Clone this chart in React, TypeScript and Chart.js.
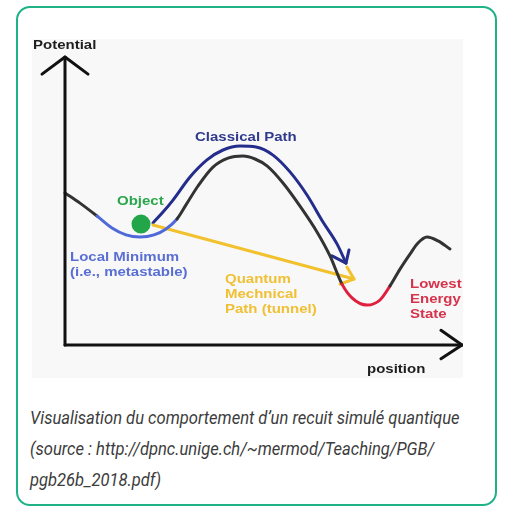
import React, { useEffect, useRef } from "react";
import { Chart, registerables } from "chart.js";

Chart.register(...registerables);

// Potential curve (x = position, y = potential)
const curveX = [0, 3.75, 8, 11.75, 15.25, 18.75, 22.25, 25.25, 28, 30.25, 33.25, 37, 40.75, 44.5, 47.5, 50.5, 54.5, 58.75, 63, 66.25, 69.25, 71.75, 75.5, 78.75, 81.25, 83.75, 86.25, 88.25, 90.5, 93.25, 96.25];
const curveY = [50.7, 47.3, 43, 39, 36.7, 36, 36.7, 38.7, 42, 46.7, 53, 59.3, 62.3, 63, 62, 59.7, 54, 46.3, 37.7, 29.7, 20.3, 15.7, 13.3, 15, 19.7, 25.3, 30.3, 34, 36, 34.7, 32];
const localMinRange = [8, 28];
const lowestRange = [69.25, 81.25];

// Classical path (over the barrier)
const classicalX = [22, 24.5, 27, 31.25, 35.5, 39.5, 43.75, 47.75, 52, 56.25, 60.5, 64.5, 68, 70.25];
const classicalY = [40.7, 44.3, 48.3, 56, 61.7, 65, 66.3, 66, 63.3, 57.7, 50, 41, 33.7, 27.3];
const classicalHeadX = [66.75, 70.25, 71];
const classicalHeadY = [29.7, 27.3, 31.7];

// Quantum tunnel path
const tunnelX = [22, 72.25];
const tunnelY = [40, 22];
const tunnelHeadX = [70.5, 72.25, 68.75];
const tunnelHeadY = [26, 22, 20.3];

// Object
const objectX = [19];
const objectY = [40.3];

// Axes
const yAxisX = [0, 0];
const yAxisY = [0, 96];
const yHeadX = [-5.75, 0, 5.75];
const yHeadY = [90.3, 96, 90.3];
const xAxisX = [0, 99.25];
const xAxisY = [0, 0];
const xHeadX = [94, 99.25, 94];
const xHeadY = [4.9, 0, -4.6];

// Labels
const labelTexts = ["Potential", "Classical Path", "Object", "Local Minimum", "(i.e., metastable)", "Quantum", "Mechnical", "Path (tunnel)", "Lowest", "Energy", "State", "position"];
const labelX = [-8, 32.5, 13, 1.25, 1.25, 40, 40, 40, 86.25, 86.25, 86.25, 75.5];
const labelY = [99.7, 69.3, 47.7, 29, 24, 21.7, 16.7, 11.7, 20, 15, 10, -8.3];
const labelColors = ["#1e1e1e", "#2f3a8c", "#2aa64c", "#5a6fd3", "#5a6fd3", "#f0c035", "#f0c035", "#f0c035", "#d6344c", "#d6344c", "#d6344c", "#1e1e1e"];

const captionLines = [
  "Visualisation du comportement d’un recuit simulé quantique",
  "(source : http://dpnc.unige.ch/~mermod/Teaching/PGB/",
  "pgb26b_2018.pdf)",
];

const pts = (xs: number[], ys: number[]) => xs.map((x, i) => ({ x, y: ys[i] }));

export default function App() {
  const ref = useRef<HTMLCanvasElement | null>(null);
  useEffect(() => {
    if (!ref.current) return;
    const labelPlugin = {
      id: "labels",
      afterDatasetsDraw(chart: any) {
        const { ctx, scales } = chart;
        ctx.save();
        ctx.font = "bold 12.5px 'Liberation Sans', Arial, sans-serif";
        ctx.textBaseline = "middle";
        ctx.textAlign = "left";
        labelTexts.forEach((t, i) => {
          const px = scales.x.getPixelForValue(labelX[i]);
          const py = scales.y.getPixelForValue(labelY[i]);
          ctx.save();
          ctx.translate(px, py);
          ctx.scale(1.2, 1);
          ctx.fillStyle = labelColors[i];
          ctx.fillText(t, 0, 0);
          ctx.restore();
        });
        ctx.restore();
      },
    };
    const line = (data: any, color: string, width: number, extra: any = {}) => ({
      data,
      showLine: true,
      borderColor: color,
      backgroundColor: color,
      borderWidth: width,
      pointRadius: 0,
      fill: false,
      clip: false,
      borderCapStyle: "round",
      borderJoinStyle: "round",
      ...extra,
    });
    const inRange = (a: number, b: number, r: number[]) => a >= r[0] - 0.01 && b <= r[1] + 0.01;
    const chart = new Chart(ref.current, {
      type: "scatter",
      data: {
        datasets: [
          line(pts(yAxisX, yAxisY), "#111", 3),
          line(pts(yHeadX, yHeadY), "#111", 3),
          line(pts(xAxisX, xAxisY), "#111", 3),
          line(pts(xHeadX, xHeadY), "#111", 3),
          line(pts(curveX, curveY), "#333", 3, {
            cubicInterpolationMode: "monotone",
            segment: {
              borderColor: (c: any) =>
                inRange(c.p0.parsed.x, c.p1.parsed.x, localMinRange)
                  ? "#4f6ad8"
                  : inRange(c.p0.parsed.x, c.p1.parsed.x, lowestRange)
                  ? "#e01f3d"
                  : "#333",
            },
          }),
          line(pts(tunnelX, tunnelY), "#f2c12e", 3),
          line(pts(tunnelHeadX, tunnelHeadY), "#f2c12e", 3),
          line(pts(classicalX, classicalY), "#242d8c", 3, { cubicInterpolationMode: "monotone" }),
          line(pts(classicalHeadX, classicalHeadY), "#242d8c", 3),
          {
            data: pts(objectX, objectY),
            pointRadius: 9.5,
            pointBackgroundColor: "#23a64a",
            pointBorderWidth: 0,
            showLine: false,
            clip: false,
          },
        ],
      },
      options: {
        animation: false,
        responsive: false,
        maintainAspectRatio: false,
        layout: { padding: 0, autoPadding: false },
        plugins: { legend: { display: false }, tooltip: { enabled: false }, title: { display: false } },
        scales: {
          x: { type: "linear", min: -8.25, max: 99.5, display: false },
          y: { type: "linear", min: -11, max: 102, display: false },
        },
      },
      plugins: [labelPlugin],
    } as any);
    return () => chart.destroy();
  }, []);

  return (
    <div style={{ position: "fixed", left: 0, top: 0, width: 512, height: 510, background: "#fff", overflow: "hidden" }}>
      <div
        style={{
          position: "absolute",
          left: 16,
          top: 6,
          width: 481,
          height: 500,
          boxSizing: "border-box",
          border: "2.5px solid #1db387",
          borderRadius: 14,
          background: "#fff",
        }}
      />
      <canvas
        ref={ref}
        width={431}
        height={339}
        style={{ position: "absolute", left: 32, top: 39, width: 431, height: 339, background: "#f8f8f8" }}
      />
      <div
        style={{
          position: "absolute",
          left: 30,
          top: 402,
          fontFamily: "Roboto, sans-serif",
          fontStyle: "italic",
          fontSize: 18,
          lineHeight: "31px",
          color: "#3c3c3c",
          whiteSpace: "nowrap",
        }}
      >
        {captionLines.map((l, i) => (
          <div key={i} style={{ transform: "scaleX(0.92)", transformOrigin: "left center" }}>
            {l}
          </div>
        ))}
      </div>
    </div>
  );
}
